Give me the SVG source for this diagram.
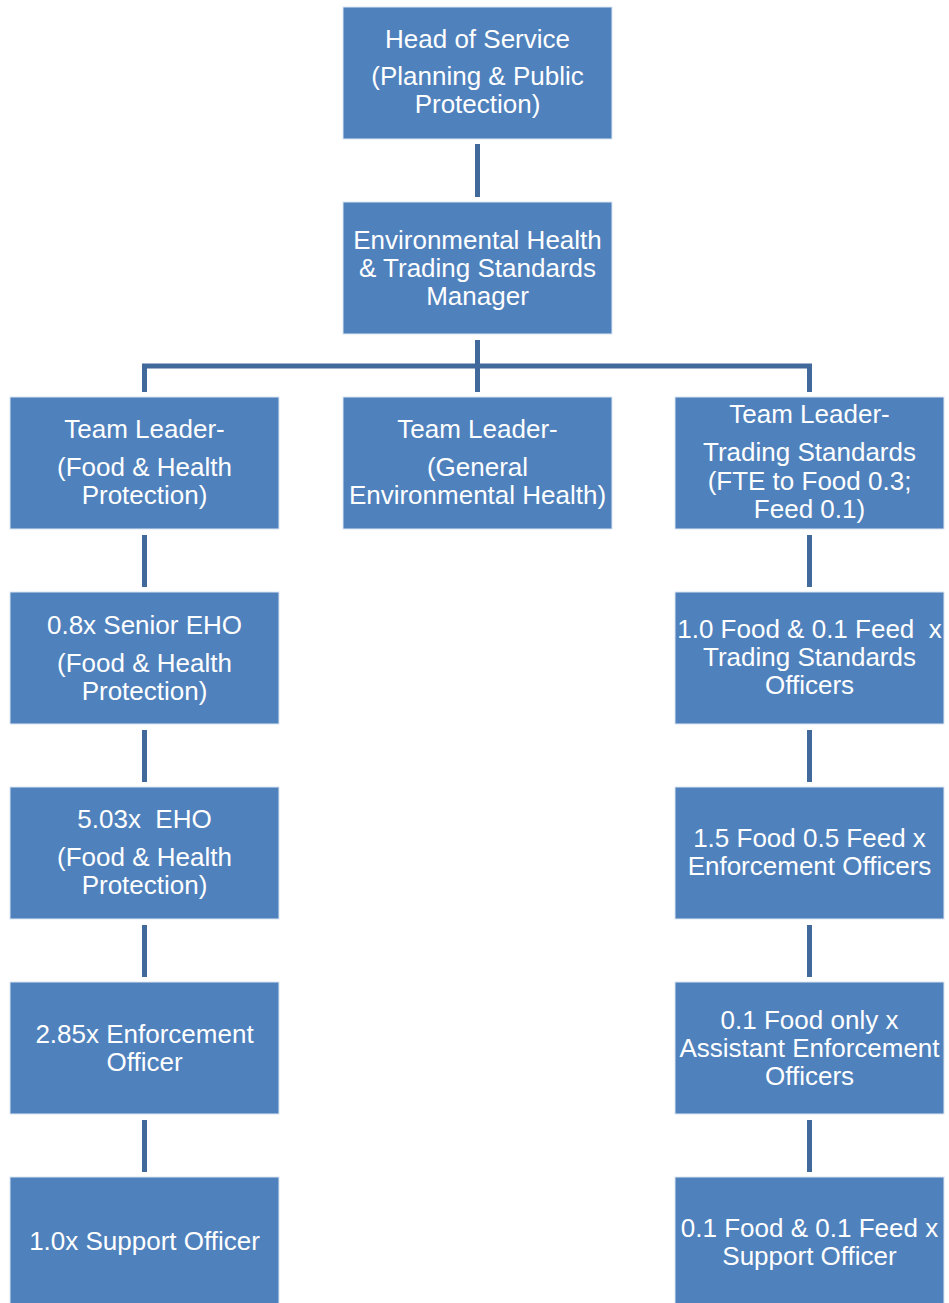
<svg xmlns="http://www.w3.org/2000/svg" width="949" height="1303" viewBox="0 0 949 1303">
<style>
.box{fill:#4F81BD;stroke:#DCE6F2;stroke-width:1}
.t{font-family:"Liberation Sans",Arial,sans-serif;font-size:26px;fill:#FFFFFF;text-anchor:middle}
.c{stroke:#41699C;stroke-width:5;fill:none}
</style>
<rect width="949" height="1303" fill="#FFFFFF"/>
<g id="connectors">
<path class="c" d="M477.5 144V197"/>
<path class="c" d="M477.5 340V392"/>
<path class="c" d="M144.5 392V366H809.5V392"/>
<path class="c" d="M144.5 535V587M144.5 730V782M144.5 925V977M144.5 1120V1172"/>
<path class="c" d="M809.5 535V587M809.5 730V782M809.5 925V977M809.5 1120V1172"/>
</g>
<g id="head">
<rect class="box" x="343" y="7" width="269" height="132"/>
<text class="t" x="477.5" y="48">Head of Service</text>
<text class="t" x="477.5" y="85">(Planning &amp; Public</text>
<text class="t" x="477.5" y="113">Protection)</text>
</g>
<g id="manager">
<rect class="box" x="343" y="202" width="269" height="132"/>
<text class="t" x="477.5" y="249">Environmental Health</text>
<text class="t" x="477.5" y="277">&amp; Trading Standards</text>
<text class="t" x="477.5" y="305">Manager</text>
</g>
<g id="tl-food">
<rect class="box" x="10" y="397" width="269" height="132"/>
<text class="t" x="144.5" y="438">Team Leader-</text>
<text class="t" x="144.5" y="476">(Food &amp; Health</text>
<text class="t" x="144.5" y="504">Protection)</text>
</g>
<g id="tl-general">
<rect class="box" x="343" y="397" width="269" height="132"/>
<text class="t" x="477.5" y="438">Team Leader-</text>
<text class="t" x="477.5" y="476">(General</text>
<text class="t" x="477.5" y="504">Environmental Health)</text>
</g>
<g id="tl-trading">
<rect class="box" x="675" y="397" width="269" height="132"/>
<text class="t" x="809.5" y="423">Team Leader-</text>
<text class="t" x="809.5" y="461">Trading Standards</text>
<text class="t" x="809.5" y="489.5">(FTE to Food 0.3;</text>
<text class="t" x="809.5" y="517.5">Feed 0.1)</text>
</g>
<g id="senior-eho">
<rect class="box" x="10" y="592" width="269" height="132"/>
<text class="t" x="144.5" y="634">0.8x Senior EHO</text>
<text class="t" x="144.5" y="672">(Food &amp; Health</text>
<text class="t" x="144.5" y="700">Protection)</text>
</g>
<g id="tso">
<rect class="box" x="675" y="592" width="269" height="132"/>
<text class="t" x="809.5" y="638" xml:space="preserve">1.0 Food &amp; 0.1 Feed  x</text>
<text class="t" x="809.5" y="666">Trading Standards</text>
<text class="t" x="809.5" y="694">Officers</text>
</g>
<g id="eho">
<rect class="box" x="10" y="787" width="269" height="132"/>
<text class="t" x="144.5" y="828" xml:space="preserve">5.03x  EHO</text>
<text class="t" x="144.5" y="866">(Food &amp; Health</text>
<text class="t" x="144.5" y="894">Protection)</text>
</g>
<g id="eo-ts">
<rect class="box" x="675" y="787" width="269" height="132"/>
<text class="t" x="809.5" y="847">1.5 Food 0.5 Feed x</text>
<text class="t" x="809.5" y="875">Enforcement Officers</text>
</g>
<g id="eo-food">
<rect class="box" x="10" y="982" width="269" height="132"/>
<text class="t" x="144.5" y="1043">2.85x Enforcement</text>
<text class="t" x="144.5" y="1071">Officer</text>
</g>
<g id="aeo">
<rect class="box" x="675" y="982" width="269" height="132"/>
<text class="t" x="809.5" y="1029">0.1 Food only x</text>
<text class="t" x="809.5" y="1056.5">Assistant Enforcement</text>
<text class="t" x="809.5" y="1084.5">Officers</text>
</g>
<g id="support-food">
<rect class="box" x="10" y="1177" width="269" height="132"/>
<text class="t" x="144.5" y="1250">1.0x Support Officer</text>
</g>
<g id="support-ts">
<rect class="box" x="675" y="1177" width="269" height="132"/>
<text class="t" x="809.5" y="1236.5">0.1 Food &amp; 0.1 Feed x</text>
<text class="t" x="809.5" y="1264.5">Support Officer</text>
</g>
</svg>
